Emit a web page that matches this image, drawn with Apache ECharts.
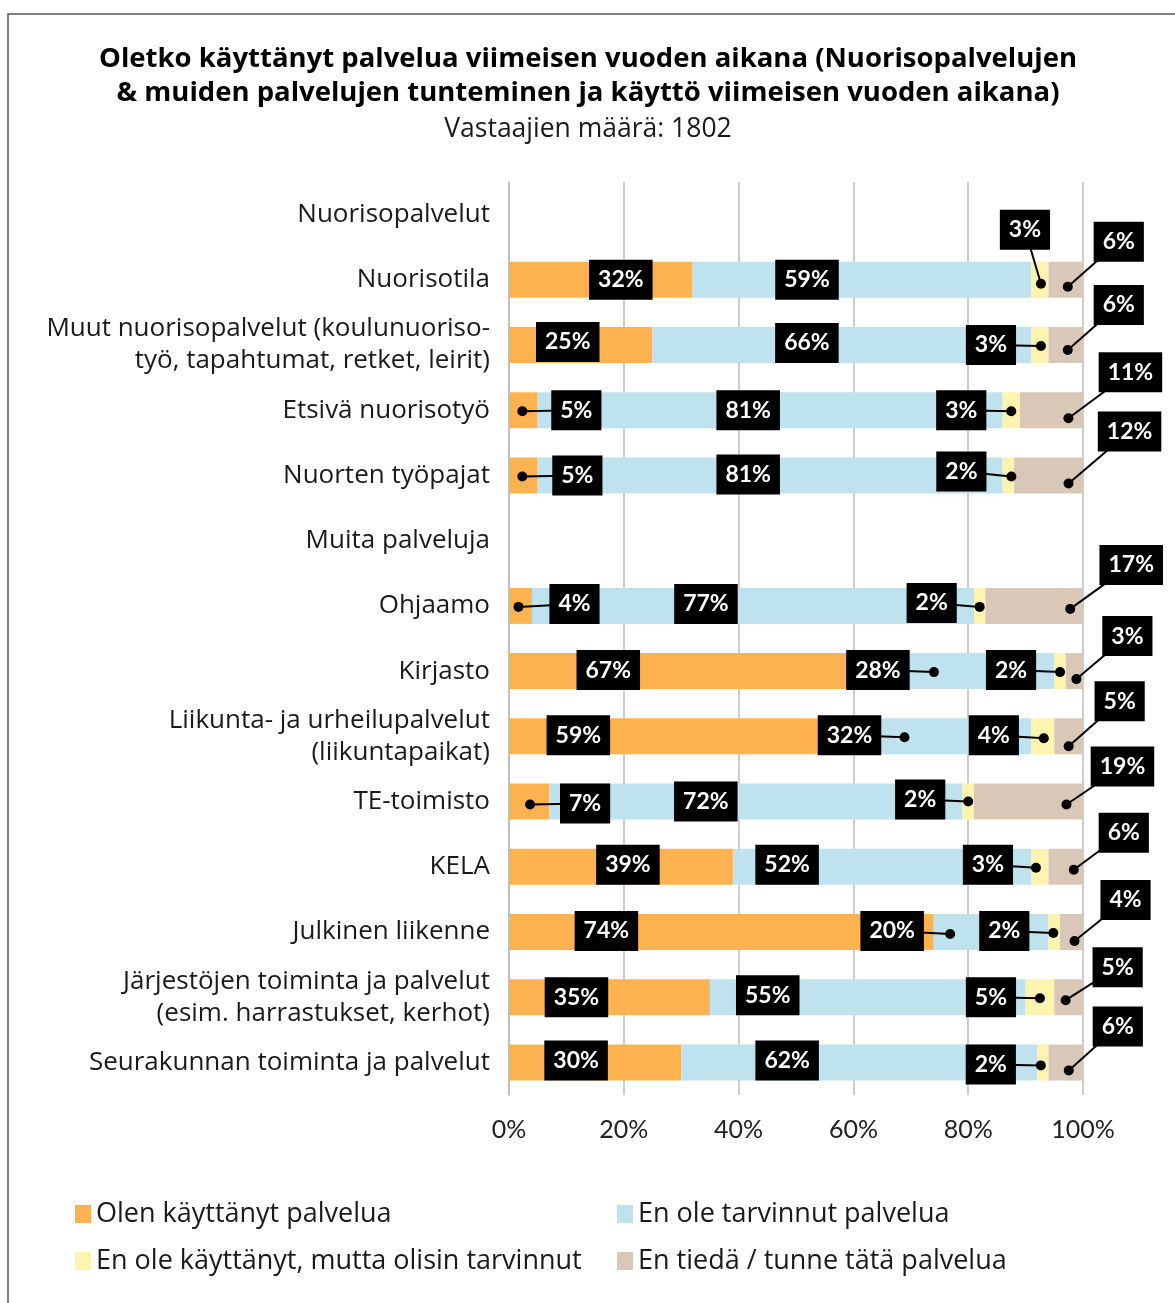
<!DOCTYPE html>
<html>
<head>
<meta charset="utf-8">
<script src="https://cdn.jsdelivr.net/npm/echarts@6/dist/echarts.min.js"></script>
<style>html,body{margin:0;padding:0;background:#fff}</style>
</head>
<body>
<div id="main" style="width:1175px;height:1303px;"></div>
<script>
// rivit ylhäältä alas, väliotsikoilla ei ole arvoja
const categories = [
  'Nuorisopalvelut',
  'Nuorisotila',
  'Muut nuorisopalvelut (koulunuoriso-\ntyö, tapahtumat, retket, leirit)',
  'Etsivä nuorisotyö',
  'Nuorten työpajat',
  'Muita palveluja',
  'Ohjaamo',
  'Kirjasto',
  'Liikunta- ja urheilupalvelut\n(liikuntapaikat)',
  'TE-toimisto',
  'KELA',
  'Julkinen liikenne',
  'Järjestöjen toiminta ja palvelut\n(esim. harrastukset, kerhot)',
  'Seurakunnan toiminta ja palvelut'
];
const used      = [null, 32, 25,  5,  5, null,  4, 67, 59,  7, 39, 74, 35, 30];
const notNeeded = [null, 59, 66, 81, 81, null, 77, 28, 32, 72, 52, 20, 55, 62];
const wouldNeed = [null,  3,  3,  3,  2, null,  2,  2,  4,  2,  3,  2,  5,  2];
const unknown   = [null,  6,  6, 11, 12, null, 17,  3,  5, 19,  6,  4,  5,  6];
const seriesNames = [
  'Olen käyttänyt palvelua',
  'En ole tarvinnut palvelua',
  'En ole käyttänyt, mutta olisin tarvinnut',
  'En tiedä / tunne tätä palvelua'
];
const colors = ['#FFB350', '#BFE3EE', '#FFF3B0', '#D9C7B8'];
const xTicks = [0, 20, 40, 60, 80, 100];

// label box offset from segment centre [dx, dy] (px)
const boxOffsets = {
  1:  [[20, 0], [-55, 0], [-15, -50], [53, -38]],
  2:  [[-13, -3], [-35, -2], [-49, 0], [53, -40]],
  3:  [[53, 0], [-22, 0], [-50, 0], [79, -38]],
  4:  [[54, 0], [-22, -1], [-47, -4], [81, -44]],
  6:  [[54, -2], [-47, -2], [-48, -3], [97, -41]],
  7:  [[-93, -1], [-96, -1], [-49, -1], [53, -35]],
  8:  [[-100, -1], [-90, -1], [-49, -1], [51, -35]],
  9:  [[56, 2], [-50, 0], [-48, -2], [94, -35]],
  10: [[7, -2], [-95, -2], [-52, -2], [58, -34]],
  11: [[-115, -1], [-99, -1], [-50, -1], [54, -32]],
  12: [[-33, 0], [-100, -2], [-49, 0], [49, -30]],
  13: [[-19, -2], [-72, -2], [-52, 2], [52, -36]]
};
// leader line dot offset from segment centre, null = no leader line
const dotOffsets = {
  1:  [null, null, [1, 4], [2, 7]],
  2:  [null, null, [1, 1], [2, 5]],
  3:  [[-1, 1], null, [0, 1], [17, 8]],
  4:  [[-1, 1], null, [3, 1], [20, 8]],
  6:  [[-2, 1], null, [0, 1], [36, 3]],
  7:  [null, [-40, 1], [0, 1], [2, 8]],
  8:  [null, [-35, 1], [1, 2], [0, 10]],
  9:  [[1, 3], null, [0, 0], [38, 3]],
  10: [null, null, [-4, 1], [8, 3]],
  11: [null, [-41, 2], [-1, 1], [3, 9]],
  12: [null, null, [0, 1], [-3, 3]],
  13: [null, null, [-2, 3], [3, 8]]
};

const valueArrays = [used, notNeeded, wouldNeed, unknown];
const labelItems = [];
categories.forEach(function (c, i) {
  if (used[i] == null) return;
  let acc = 0;
  valueArrays.forEach(function (arr, s) {
    labelItems.push({
      value: [acc, acc + arr[i], i, s],
      text: arr[i] + '%',
      box: boxOffsets[i][s],
      dot: dotOffsets[i][s]
    });
    acc += arr[i];
  });
});

function renderLabel(params, api) {
  const item = labelItems[params.dataIndex];
  const mid = api.coord([(api.value(0) + api.value(1)) / 2, api.value(2)]);
  const bx = mid[0] + item.box[0];
  const by = mid[1] + item.box[1];
  const children = [];
  if (item.dot) {
    const px = mid[0] + item.dot[0];
    const py = mid[1] + item.dot[1];
    children.push({type: 'line', shape: {x1: px, y1: py, x2: bx, y2: by}, style: {stroke: '#000', lineWidth: 2}});
    children.push({type: 'circle', shape: {cx: px, cy: py, r: 5}, style: {fill: '#000'}});
  }
  children.push({
    type: 'text', x: bx, y: by,
    style: {
      text: item.text, fill: '#fff',
      fontFamily: 'Lato', fontWeight: 'bold', fontSize: 23,
      align: 'center', verticalAlign: 'middle',
      backgroundColor: '#000', padding: [9, 9, 8, 9]
    }
  });
  return {type: 'group', children: children};
}

const chart = echarts.init(document.getElementById('main'));
const legendStyle = {
  orient: 'vertical', top: 1193, itemWidth: 16, itemHeight: 18, itemGap: 15, icon: 'rect',
  textStyle: {fontFamily: 'Open Sans', fontSize: 27, color: '#1a1a1a', lineHeight: 32}
};

chart.setOption({
  animation: false,
  textStyle: {fontFamily: 'Open Sans'},
  title: {
    text: 'Oletko käyttänyt palvelua viimeisen vuoden aikana (Nuorisopalvelujen\n& muiden palvelujen tunteminen ja käyttö viimeisen vuoden aikana)',
    subtext: 'Vastaajien määrä: 1802',
    left: 583, top: 37, textAlign: 'center', itemGap: 3,
    textStyle: {fontFamily: 'Open Sans', fontWeight: 'bold', fontSize: 27.5, lineHeight: 34, color: '#000'},
    subtextStyle: {fontFamily: 'Open Sans', fontSize: 26.5, lineHeight: 32, color: '#1a1a1a'}
  },
  graphic: [{
    type: 'rect', shape: {x: 8, y: 14, width: 1300, height: 1400},
    style: {fill: 'none', stroke: '#555', lineWidth: 1.5}, silent: true
  }],
  legend: [
    Object.assign({left: 70, data: [seriesNames[0], seriesNames[2]]}, legendStyle),
    Object.assign({left: 612, data: [seriesNames[1], seriesNames[3]]}, legendStyle)
  ],
  grid: {left: 509, right: 92, top: 182, bottom: 208, containLabel: false, outerBoundsMode: 'none'},
  xAxis: {
    type: 'value', min: xTicks[0], max: xTicks[xTicks.length - 1], interval: 20,
    axisLine: {show: false}, axisTick: {show: false},
    splitLine: {lineStyle: {color: '#bdbdbd', width: 1.5}},
    axisLabel: {formatter: '{value}%', fontFamily: 'Lato', fontSize: 25, color: '#222', margin: 22}
  },
  yAxis: {
    type: 'category', data: categories, inverse: true,
    axisTick: {show: false},
    axisLine: {show: true, lineStyle: {color: '#bdbdbd', width: 1.5}},
    axisLabel: {fontFamily: 'Open Sans', fontSize: 26, color: '#1a1a1a', lineHeight: 32, margin: 19}
  },
  series: valueArrays.map(function (arr, s) {
    return {
      name: seriesNames[s], type: 'bar', stack: 'total', barWidth: 36,
      itemStyle: {color: colors[s]}, data: arr, silent: true
    };
  }).concat([{
    type: 'custom', z: 10, silent: true,
    encode: {x: [0, 1], y: 2},
    renderItem: renderLabel,
    data: labelItems.map(function (d) { return d.value; })
  }])
});
</script>
</body>
</html>
